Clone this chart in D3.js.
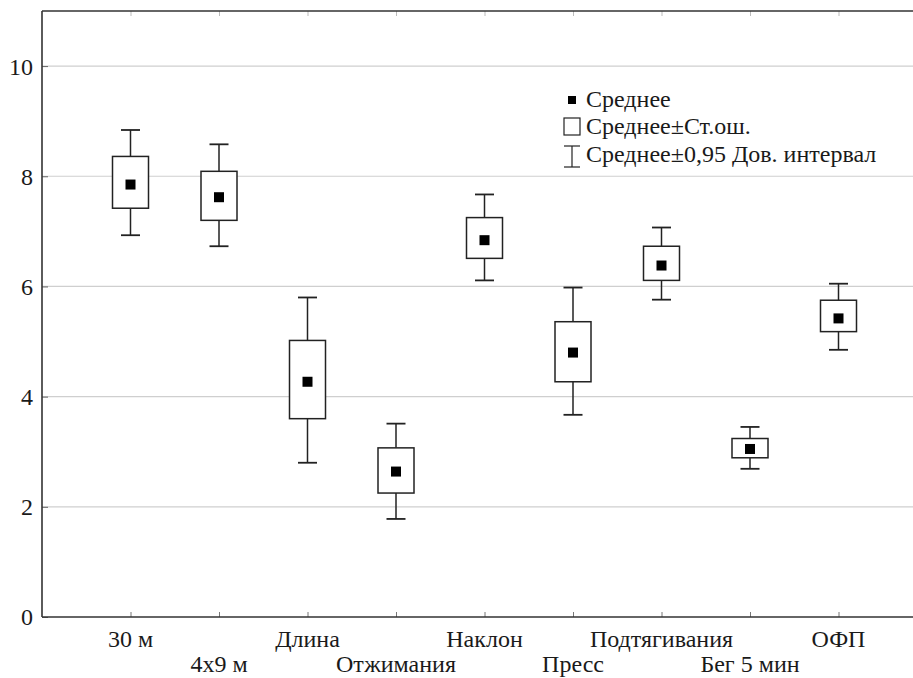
<!DOCTYPE html>
<html><head><meta charset="utf-8">
<script src="https://cdn.jsdelivr.net/npm/d3@7"></script>
<style>body{margin:0;background:#fff}svg{display:block}svg text{font-family:"Liberation Serif","Times New Roman","DejaVu Serif",serif !important}</style>
</head><body><svg id="c" width="913" height="678"></svg>
<script>
const categories = ["30 м","4x9 м","Длина","Отжимания","Наклон","Пресс","Подтягивания","Бег 5 мин","ОФП"];
const means   = [7.85, 7.62, 4.27, 2.64, 6.84, 4.80, 6.38, 3.05, 5.42];
const seLow   = [7.42, 7.20, 3.60, 2.25, 6.51, 4.27, 6.11, 2.89, 5.18];
const seHigh  = [8.36, 8.09, 5.02, 3.07, 7.25, 5.36, 6.73, 3.24, 5.75];
const ciLow   = [6.93, 6.73, 2.80, 1.78, 6.11, 3.67, 5.76, 2.69, 4.85];
const ciHigh  = [8.84, 8.58, 5.80, 3.51, 7.67, 5.98, 7.07, 3.45, 6.05];
const yTicks  = [0, 2, 4, 6, 8, 10];
const legendLabels = ["Среднее", "Среднее±Ст.ош.", "Среднее±0,95 Дов. интервал"];

const FS = 24;
const svg = d3.select("#c");
const L = 42, R = 927, T = 11, B = 617;
const x = d3.scalePoint().domain(categories).range([L, R]).padding(1);
const y = d3.scaleLinear().domain([0, 11]).range([B, T]);

// gridlines
svg.append("g").selectAll("line").data(yTicks.filter(d => d > 0)).join("line")
  .attr("x1", L).attr("x2", R).attr("y1", d => y(d)).attr("y2", d => y(d))
  .attr("stroke", "#cfcfcf").attr("stroke-width", 1.2);

// y axis (ticks pointing inward)
const ya = svg.append("g").attr("transform", `translate(${L},0)`)
  .call(d3.axisLeft(y).tickValues(yTicks).tickSize(-6).tickPadding(9));
ya.attr("font-family", null).attr("font-size", null);
ya.select(".domain").remove();
ya.selectAll("line").attr("stroke", "#666");
ya.selectAll("text").attr("font-size", FS).attr("fill", "#1a1a1a").attr("dy", "0.33em");

// x axis bottom (ticks inward)
const xa = svg.append("g").attr("transform", `translate(0,${B})`)
  .call(d3.axisBottom(x).tickSize(-5).tickFormat(""));
xa.select(".domain").remove();
xa.selectAll("line").attr("stroke", "#777");
svg.append("g").selectAll("text").data(categories).join("text")
  .attr("x", d => x(d)).attr("y", (d, i) => i % 2 === 0 ? 647 : 672)
  .attr("text-anchor", "middle").attr("font-size", FS).attr("fill", "#1a1a1a").text(d => d);

// top ticks
const xt = svg.append("g").attr("transform", `translate(0,${T})`)
  .call(d3.axisTop(x).tickSize(-5).tickFormat(""));
xt.select(".domain").remove();
xt.selectAll("line").attr("stroke", "#bbb");

// frame
svg.append("line").attr("x1", L).attr("x2", R).attr("y1", T).attr("y2", T).attr("stroke", "#333").attr("stroke-width", 1.6);
svg.append("line").attr("x1", L).attr("x2", R).attr("y1", B).attr("y2", B).attr("stroke", "#333").attr("stroke-width", 1.6);
svg.append("line").attr("x1", L).attr("x2", L).attr("y1", T).attr("y2", B).attr("stroke", "#333").attr("stroke-width", 1.6);

// boxes
const data = categories.map((c, i) => ({c, m: means[i], sl: seLow[i], sh: seHigh[i], cl: ciLow[i], ch: ciHigh[i]}));
const bw = 36, cw = 19, ms = 10;
const g = svg.append("g").selectAll("g").data(data).join("g");
g.append("line").attr("x1", d => x(d.c)).attr("x2", d => x(d.c)).attr("y1", d => y(d.ch)).attr("y2", d => y(d.sh)).attr("stroke", "#222").attr("stroke-width", 1.5);
g.append("line").attr("x1", d => x(d.c)).attr("x2", d => x(d.c)).attr("y1", d => y(d.sl)).attr("y2", d => y(d.cl)).attr("stroke", "#222").attr("stroke-width", 1.5);
g.append("line").attr("x1", d => x(d.c) - cw/2).attr("x2", d => x(d.c) + cw/2).attr("y1", d => y(d.ch)).attr("y2", d => y(d.ch)).attr("stroke", "#222").attr("stroke-width", 1.8);
g.append("line").attr("x1", d => x(d.c) - cw/2).attr("x2", d => x(d.c) + cw/2).attr("y1", d => y(d.cl)).attr("y2", d => y(d.cl)).attr("stroke", "#222").attr("stroke-width", 1.8);
g.append("rect").attr("x", d => x(d.c) - bw/2).attr("width", bw).attr("y", d => y(d.sh)).attr("height", d => y(d.sl) - y(d.sh))
  .attr("fill", "#fff").attr("stroke", "#222").attr("stroke-width", 1.5);
g.append("rect").attr("x", d => x(d.c) - ms/2).attr("y", d => y(d.m) - ms/2).attr("width", ms).attr("height", ms).attr("fill", "#000");

// legend
const lg = svg.append("g");
const lx = 572, ly = [100, 127, 155];
lg.append("rect").attr("x", lx - 4).attr("y", ly[0] - 4).attr("width", 8).attr("height", 8).attr("fill", "#000");
lg.append("rect").attr("x", lx - 8).attr("y", ly[1] - 9).attr("width", 16).attr("height", 17).attr("fill", "#fff").attr("stroke", "#222").attr("stroke-width", 1.2);
lg.append("line").attr("x1", lx).attr("x2", lx).attr("y1", ly[2] - 9).attr("y2", ly[2] + 12).attr("stroke", "#222").attr("stroke-width", 1.2);
lg.append("line").attr("x1", lx - 8).attr("x2", lx + 8).attr("y1", ly[2] - 9).attr("y2", ly[2] - 9).attr("stroke", "#222").attr("stroke-width", 1.2);
lg.append("line").attr("x1", lx - 8).attr("x2", lx + 8).attr("y1", ly[2] + 12).attr("y2", ly[2] + 12).attr("stroke", "#222").attr("stroke-width", 1.2);
lg.selectAll("text").data(legendLabels).join("text")
  .attr("x", lx + 14).attr("y", (d, i) => ly[i] + 7).attr("font-size", FS).attr("fill", "#1a1a1a").text(d => d);
</script></body></html>
